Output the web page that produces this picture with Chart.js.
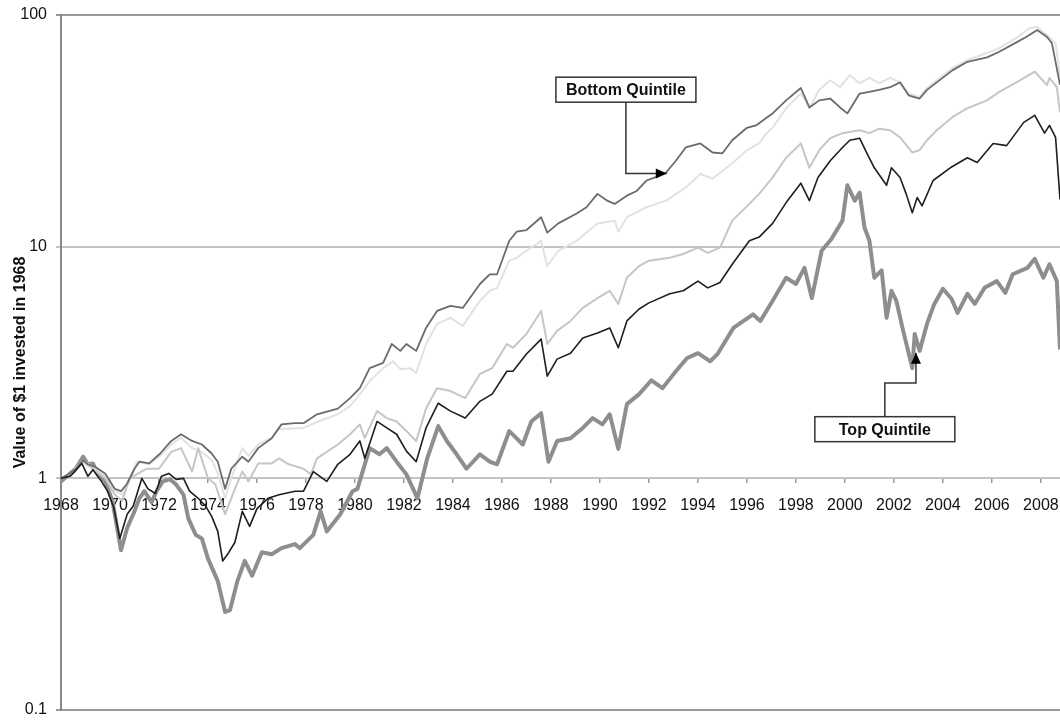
<!DOCTYPE html>
<html>
<head>
<meta charset="utf-8">
<script src="https://cdn.jsdelivr.net/npm/chart.js@4/dist/chart.umd.min.js"></script>
<style>
  html, body { margin: 0; padding: 0; background: #fff; }
  canvas { display: block; }
</style>
</head>
<body>
<canvas id="quintile-chart" width="1060" height="721"></canvas>
<script>
// [year, value of $1 invested in 1968]
const bottomQuintile = [
  [1968.0, 1.0], [1968.37, 1.05], [1968.6, 1.1], [1968.9, 1.2], [1969.1, 1.15], [1969.4, 1.12],
  [1969.8, 1.05], [1970.2, 0.9], [1970.45, 0.88], [1970.7, 0.95], [1971.0, 1.1], [1971.2, 1.18],
  [1971.6, 1.16], [1972.05, 1.28], [1972.5, 1.45], [1972.9, 1.55], [1973.35, 1.45], [1973.75, 1.4],
  [1974.15, 1.28], [1974.4, 1.18], [1974.7, 0.9], [1974.95, 1.1], [1975.4, 1.24], [1975.65, 1.18],
  [1976.05, 1.35], [1976.6, 1.49], [1977.0, 1.71], [1977.55, 1.73], [1977.9, 1.73], [1978.45, 1.89],
  [1979.3, 2.0], [1979.8, 2.22], [1980.2, 2.45], [1980.6, 2.99], [1981.15, 3.15], [1981.5, 3.8],
  [1981.85, 3.55], [1982.1, 3.8], [1982.5, 3.55], [1982.9, 4.46], [1983.35, 5.28], [1983.9, 5.55],
  [1984.4, 5.44], [1985.1, 6.9], [1985.5, 7.6], [1985.8, 7.6], [1986.3, 10.6], [1986.6, 11.6],
  [1987.0, 11.8], [1987.6, 13.4], [1987.85, 11.5], [1988.3, 12.6], [1989.05, 13.9], [1989.45, 14.8],
  [1989.9, 16.9], [1990.3, 15.8], [1990.6, 15.3], [1991.1, 16.6], [1991.5, 17.4], [1991.9, 19.3],
  [1992.25, 19.9], [1992.7, 20.9], [1993.1, 23.5], [1993.5, 26.8], [1994.1, 27.9], [1994.6, 25.5],
  [1995.0, 25.3], [1995.4, 28.8], [1996.0, 32.6], [1996.4, 33.5], [1996.8, 36.0], [1997.05, 37.6],
  [1997.6, 42.8], [1998.2, 48.4], [1998.55, 39.9], [1998.95, 42.8], [1999.4, 43.6], [1999.8, 39.9],
  [2000.1, 37.6], [2000.6, 45.8], [2001.0, 46.6], [2001.4, 47.5], [2001.85, 48.8], [2002.25, 51.2],
  [2002.6, 45.0], [2003.05, 43.6], [2003.35, 47.5], [2003.75, 51.2], [2004.4, 57.8], [2005.0, 62.8],
  [2005.8, 65.6], [2006.3, 69.4], [2007.0, 76.2], [2007.4, 80.4], [2007.85, 86.1], [2008.25, 80.4],
  [2008.45, 75.6], [2008.78, 50.0]
];

const secondQuintile = [
  [1968.0, 1.0], [1968.4, 1.05], [1968.9, 1.2], [1969.3, 1.12], [1969.8, 1.02], [1970.2, 0.88],
  [1970.5, 0.85], [1970.8, 0.98], [1971.1, 1.18], [1971.6, 1.15], [1972.05, 1.25], [1972.5, 1.4],
  [1972.9, 1.5], [1973.35, 1.35], [1973.75, 1.3], [1974.15, 1.2], [1974.4, 1.05], [1974.7, 0.82],
  [1974.95, 1.0], [1975.4, 1.35], [1975.65, 1.25], [1976.05, 1.4], [1976.6, 1.5], [1976.9, 1.63],
  [1977.9, 1.65], [1978.45, 1.75], [1979.3, 1.89], [1979.8, 2.05], [1980.2, 2.31], [1980.6, 2.63],
  [1981.15, 2.99], [1981.55, 3.2], [1981.85, 2.96], [1982.25, 2.99], [1982.5, 2.85], [1982.9, 3.8],
  [1983.35, 4.64], [1983.9, 4.93], [1984.4, 4.55], [1985.1, 5.84], [1985.5, 6.45], [1985.8, 6.64],
  [1986.3, 8.7], [1986.6, 8.95], [1987.0, 9.6], [1987.6, 10.6], [1987.85, 8.25], [1988.3, 9.6],
  [1989.05, 10.6], [1989.9, 12.6], [1990.6, 12.95], [1990.75, 11.6], [1991.1, 13.4], [1991.9, 14.8],
  [1992.7, 15.8], [1993.5, 18.0], [1994.1, 20.6], [1994.6, 19.7], [1995.4, 22.9], [1996.0, 26.1],
  [1996.5, 27.9], [1996.8, 30.9], [1997.05, 32.6], [1997.6, 39.6], [1998.2, 45.8], [1998.55, 39.6],
  [1998.95, 47.5], [1999.4, 52.3], [1999.8, 48.8], [2000.2, 55.0], [2000.6, 50.8], [2001.0, 53.5],
  [2001.4, 50.8], [2001.85, 53.5], [2002.25, 51.2], [2002.6, 45.8], [2003.05, 44.3], [2003.35, 48.4],
  [2003.75, 52.3], [2004.4, 59.1], [2005.0, 63.9], [2005.8, 68.5], [2006.3, 71.9], [2007.0, 79.6],
  [2007.55, 87.9], [2007.85, 88.8], [2008.25, 81.9], [2008.6, 75.6], [2008.78, 55.0]
];

const thirdQuintile = [
  [1968.0, 1.0], [1968.4, 1.04], [1968.9, 1.18], [1969.3, 1.1], [1969.8, 1.0], [1970.2, 0.85],
  [1970.5, 0.8], [1970.8, 1.0], [1971.5, 1.1], [1972.0, 1.1], [1972.5, 1.3], [1972.9, 1.35],
  [1973.35, 1.07], [1973.6, 1.35], [1974.0, 1.0], [1974.3, 0.94], [1974.7, 0.7], [1975.1, 0.9],
  [1975.4, 1.07], [1975.65, 0.97], [1976.05, 1.16], [1976.6, 1.16], [1976.9, 1.22], [1977.3, 1.15],
  [1977.9, 1.1], [1978.2, 1.04], [1978.45, 1.22], [1979.3, 1.4], [1979.8, 1.55], [1980.2, 1.71],
  [1980.4, 1.49], [1980.9, 1.95], [1981.3, 1.82], [1981.7, 1.76], [1982.1, 1.6], [1982.5, 1.45],
  [1982.9, 2.0], [1983.35, 2.45], [1983.9, 2.38], [1984.5, 2.22], [1985.1, 2.82], [1985.6, 2.99],
  [1986.2, 3.8], [1986.45, 3.66], [1987.0, 4.2], [1987.6, 5.28], [1987.85, 3.8], [1988.25, 4.33],
  [1988.8, 4.78], [1989.3, 5.44], [1989.9, 6.0], [1990.4, 6.45], [1990.75, 5.66], [1991.1, 7.34],
  [1991.6, 8.25], [1992.0, 8.7], [1992.85, 8.95], [1993.4, 9.3], [1994.0, 9.9], [1994.4, 9.4],
  [1994.9, 9.9], [1995.4, 12.95], [1996.1, 15.3], [1996.5, 16.9], [1997.05, 19.9], [1997.6, 24.2],
  [1998.2, 27.9], [1998.55, 21.9], [1998.95, 26.1], [1999.4, 29.4], [1999.9, 30.9], [2000.6, 31.8],
  [2001.0, 30.9], [2001.4, 32.3], [2001.85, 31.8], [2002.25, 29.6], [2002.75, 25.5], [2003.05, 26.1],
  [2003.35, 28.8], [2003.75, 31.8], [2004.4, 36.3], [2005.0, 39.6], [2005.8, 42.8], [2006.3, 46.6],
  [2007.0, 51.2], [2007.75, 56.9], [2008.25, 49.8], [2008.35, 53.5], [2008.65, 48.8], [2008.78, 38.0]
];

const fourthQuintile = [
  [1968.0, 1.0], [1968.37, 1.02], [1968.6, 1.08], [1968.85, 1.16], [1969.1, 1.02], [1969.3, 1.09],
  [1969.65, 0.97], [1969.9, 0.88], [1970.15, 0.75], [1970.4, 0.55], [1970.7, 0.7], [1970.95, 0.76],
  [1971.3, 1.0], [1971.55, 0.9], [1971.85, 0.86], [1972.1, 1.02], [1972.4, 1.05], [1972.7, 0.99],
  [1973.0, 1.0], [1973.25, 0.88], [1973.6, 0.82], [1973.9, 0.76], [1974.15, 0.685], [1974.4, 0.59],
  [1974.6, 0.44], [1974.8, 0.47], [1975.1, 0.53], [1975.4, 0.72], [1975.7, 0.62], [1976.0, 0.74],
  [1976.45, 0.82], [1976.9, 0.85], [1977.55, 0.88], [1977.9, 0.88], [1978.3, 1.07], [1978.85, 0.97],
  [1979.3, 1.15], [1979.8, 1.27], [1980.2, 1.45], [1980.4, 1.22], [1980.9, 1.76], [1981.3, 1.65],
  [1981.7, 1.55], [1982.1, 1.31], [1982.5, 1.18], [1982.9, 1.65], [1983.4, 2.11], [1983.9, 1.95],
  [1984.5, 1.82], [1985.1, 2.15], [1985.6, 2.31], [1986.2, 2.9], [1986.45, 2.9], [1987.0, 3.44],
  [1987.6, 3.99], [1987.85, 2.76], [1988.25, 3.27], [1988.8, 3.47], [1989.3, 4.03], [1989.9, 4.24],
  [1990.4, 4.46], [1990.75, 3.66], [1991.1, 4.78], [1991.6, 5.38], [1992.0, 5.72], [1992.85, 6.26],
  [1993.4, 6.45], [1994.0, 7.1], [1994.4, 6.64], [1994.9, 7.0], [1995.4, 8.4], [1996.1, 10.6],
  [1996.5, 11.0], [1997.05, 12.6], [1997.6, 15.5], [1998.2, 18.8], [1998.55, 15.8], [1998.9, 19.9],
  [1999.4, 23.5], [1999.9, 26.8], [2000.2, 28.8], [2000.6, 29.4], [2000.9, 25.3], [2001.2, 21.9],
  [2001.7, 18.4], [2001.9, 21.9], [2002.25, 19.9], [2002.5, 16.9], [2002.75, 14.0], [2002.95, 16.3],
  [2003.15, 15.0], [2003.6, 19.3], [2004.3, 21.9], [2005.0, 24.2], [2005.4, 23.1], [2006.05, 27.9],
  [2006.6, 27.3], [2007.3, 34.4], [2007.75, 36.9], [2008.15, 30.9], [2008.35, 33.4], [2008.6, 29.6],
  [2008.78, 16.0]
];

const topQuintile = [
  [1968.0, 0.97], [1968.37, 1.05], [1968.6, 1.1], [1968.9, 1.24], [1969.1, 1.15], [1969.3, 1.16],
  [1969.5, 1.04], [1969.8, 0.97], [1970.1, 0.8], [1970.45, 0.49], [1970.7, 0.61], [1971.0, 0.72],
  [1971.2, 0.82], [1971.4, 0.88], [1971.7, 0.79], [1971.9, 0.88], [1972.15, 0.97], [1972.45, 0.99],
  [1972.7, 0.94], [1973.0, 0.85], [1973.2, 0.67], [1973.5, 0.57], [1973.75, 0.55], [1974.0, 0.45],
  [1974.4, 0.36], [1974.7, 0.265], [1974.9, 0.27], [1975.2, 0.36], [1975.5, 0.44], [1975.8, 0.38],
  [1976.2, 0.48], [1976.6, 0.47], [1977.0, 0.5], [1977.55, 0.52], [1977.75, 0.5], [1978.3, 0.57],
  [1978.6, 0.72], [1978.85, 0.59], [1979.4, 0.7], [1979.9, 0.88], [1980.1, 0.9], [1980.6, 1.35],
  [1981.0, 1.27], [1981.3, 1.35], [1981.7, 1.18], [1982.1, 1.04], [1982.55, 0.82], [1982.95, 1.22],
  [1983.4, 1.68], [1983.75, 1.45], [1984.15, 1.27], [1984.55, 1.1], [1985.1, 1.27], [1985.5, 1.18],
  [1985.8, 1.15], [1986.3, 1.6], [1986.85, 1.4], [1987.2, 1.76], [1987.6, 1.91], [1987.9, 1.18],
  [1988.25, 1.45], [1988.8, 1.49], [1989.3, 1.65], [1989.7, 1.82], [1990.1, 1.71], [1990.4, 1.89],
  [1990.75, 1.34], [1991.1, 2.09], [1991.6, 2.31], [1992.1, 2.65], [1992.55, 2.45], [1993.1, 2.9],
  [1993.55, 3.3], [1994.0, 3.47], [1994.5, 3.2], [1994.8, 3.44], [1995.45, 4.46], [1996.25, 5.1],
  [1996.55, 4.78], [1997.05, 5.84], [1997.6, 7.34], [1998.0, 6.9], [1998.35, 8.1], [1998.65, 6.0],
  [1999.05, 9.6], [1999.45, 10.8], [1999.9, 12.95], [2000.1, 18.4], [2000.4, 15.8], [2000.6, 17.1],
  [2000.8, 12.1], [2001.0, 10.6], [2001.2, 7.34], [2001.5, 7.9], [2001.7, 4.93], [2001.9, 6.45],
  [2002.1, 5.84], [2002.35, 4.46], [2002.75, 2.99], [2002.85, 4.2], [2003.05, 3.55], [2003.35, 4.64],
  [2003.65, 5.66], [2004.0, 6.58], [2004.35, 5.96], [2004.6, 5.18], [2005.0, 6.26], [2005.3, 5.66],
  [2005.7, 6.64], [2006.2, 7.1], [2006.55, 6.32], [2006.85, 7.6], [2007.45, 8.1], [2007.75, 8.86],
  [2008.1, 7.34], [2008.35, 8.4], [2008.65, 7.1], [2008.78, 3.6]
];

const yearTicks = [1968, 1970, 1972, 1974, 1976, 1978, 1980, 1982, 1984, 1986, 1988,
  1990, 1992, 1994, 1996, 1998, 2000, 2002, 2004, 2006, 2008];
const valueTicks = [0.1, 1, 10, 100];

// callout boxes: label centre, then the elbow path to the arrow tip (data units)
const callouts = [
  { text: 'Bottom Quintile', path: [[1991.06, 47.6], [1991.06, 20.7], [1992.73, 20.7]] },
  { text: 'Top Quintile', path: [[2001.63, 1.63], [2001.63, 2.58], [2002.9, 2.58], [2002.9, 3.48]] }
];

function toPoints(rows) {
  return rows.map(function (r) { return { x: r[0], y: r[1] }; });
}

function lineSet(label, rows, color, width, order) {
  return {
    label: label,
    data: toPoints(rows),
    borderColor: color,
    borderWidth: width,
    pointRadius: 0,
    tension: 0,
    borderJoinStyle: 'round',
    order: order
  };
}

var calloutPlugin = {
  id: 'callouts',
  afterDatasetsDraw: function (chart) {
    var ctx = chart.ctx;
    var xs = chart.scales.x;
    var ys = chart.scales.y;
    ctx.save();
    callouts.forEach(function (c) {
      var pts = c.path.map(function (p) { return [xs.getPixelForValue(p[0]), ys.getPixelForValue(p[1])]; });
      ctx.strokeStyle = '#333';
      ctx.lineWidth = 1.5;
      ctx.beginPath();
      ctx.moveTo(pts[0][0], pts[0][1]);
      for (var i = 1; i < pts.length; i++) ctx.lineTo(pts[i][0], pts[i][1]);
      ctx.stroke();

      // arrow head
      var tip = pts[pts.length - 1];
      var prev = pts[pts.length - 2];
      var ang = Math.atan2(tip[1] - prev[1], tip[0] - prev[0]);
      var len = 11, half = 5;
      ctx.fillStyle = '#000';
      ctx.beginPath();
      ctx.moveTo(tip[0], tip[1]);
      ctx.lineTo(tip[0] - len * Math.cos(ang) + half * Math.sin(ang), tip[1] - len * Math.sin(ang) - half * Math.cos(ang));
      ctx.lineTo(tip[0] - len * Math.cos(ang) - half * Math.sin(ang), tip[1] - len * Math.sin(ang) + half * Math.cos(ang));
      ctx.closePath();
      ctx.fill();

      // label box
      var cx = pts[0][0], cy = pts[0][1];
      var w = 140, h = 25;
      ctx.fillStyle = '#fff';
      ctx.fillRect(cx - w / 2, cy - h / 2, w, h);
      ctx.strokeStyle = '#333';
      ctx.lineWidth = 1.5;
      ctx.strokeRect(cx - w / 2, cy - h / 2, w, h);
      ctx.fillStyle = '#111';
      ctx.font = 'bold 16px "Liberation Sans", Arial, sans-serif';
      ctx.textAlign = 'center';
      ctx.textBaseline = 'middle';
      ctx.fillText(c.text, cx, cy + 1);
    });
    ctx.restore();
  }
};

var tickFont = { family: '"Liberation Sans", Arial, sans-serif', size: 16 };

new Chart(document.getElementById('quintile-chart').getContext('2d'), {
  type: 'line',
  data: {
    datasets: [
      lineSet('Fourth Quintile', fourthQuintile, '#1e1e1e', 1.6, 1),
      lineSet('Bottom Quintile', bottomQuintile, '#6b6b6b', 1.8, 2),
      lineSet('Third Quintile', thirdQuintile, '#c6c6c6', 2, 3),
      lineSet('Second Quintile', secondQuintile, '#e2e2e2', 2, 4),
      lineSet('Top Quintile', topQuintile, '#8e8e8e', 4, 5)
    ]
  },
  options: {
    responsive: false,
    animation: false,
    devicePixelRatio: 1,
    layout: { padding: { top: 15, right: 0, bottom: 11, left: 0 } },
    plugins: { legend: { display: false }, tooltip: { enabled: false } },
    scales: {
      x: {
        type: 'linear',
        position: { y: 1 },
        min: 1968,
        max: 2008.78,
        afterBuildTicks: function (scale) {
          scale.ticks = yearTicks.map(function (v) { return { value: v }; });
        },
        afterFit: function (scale) {
          scale.paddingLeft = 0;
          scale.paddingRight = 0;
          scale.paddingTop = 0;
          scale.paddingBottom = 0;
        },
        ticks: {
          font: tickFont,
          color: '#111',
          padding: 13,
          maxRotation: 0,
          autoSkip: false,
          callback: function (v) { return String(v); }
        },
        grid: { display: true, drawOnChartArea: false, drawTicks: true, tickLength: 5, color: '#999', lineWidth: 1.5 },
        border: { display: false }
      },
      y: {
        type: 'logarithmic',
        min: 0.1,
        max: 100,
        afterBuildTicks: function (scale) {
          scale.ticks = valueTicks.map(function (v) { return { value: v }; });
        },
        afterFit: function (scale) {
          scale.width = 61;
          scale.paddingTop = 0;
          scale.paddingBottom = 0;
        },
        ticks: {
          font: tickFont,
          color: '#111',
          padding: 9,
          callback: function (v) { return String(v); }
        },
        grid: {
          color: function (c) { return (c.tick && (c.tick.value === 1 || c.tick.value === 10)) ? '#c4c4c4' : '#9a9a9a'; },
          lineWidth: 2,
          tickLength: 5
        },
        border: { display: true, color: '#888', width: 2 },
        title: {
          display: true,
          text: 'Value of $1 invested in 1968',
          color: '#111',
          font: { family: '"Liberation Sans", Arial, sans-serif', size: 16, weight: 'bold' },
          padding: { top: 11, bottom: 0 }
        }
      }
    }
  },
  plugins: [calloutPlugin]
});
</script>
</body>
</html>
